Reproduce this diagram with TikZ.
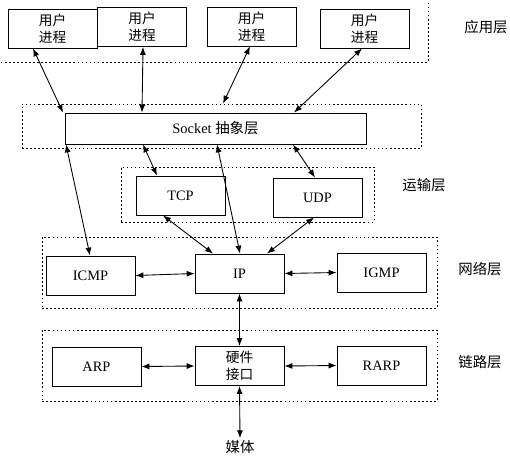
\documentclass[tikz,border=0pt]{standalone}
\usepackage{fontspec}
\setmainfont{Liberation Serif}
\newfontfamily\cjk{Noto Sans CJK SC}
\usetikzlibrary{positioning,arrows.meta,calc}

\begin{document}
\begin{tikzpicture}[x=0.02cm,y=-0.02cm,line width=0.5pt,
  font=\fontsize{8.2}{9.6}\selectfont,
  proc/.style={draw,minimum width=1.78cm,minimum height=0.78cm,inner sep=0pt,align=center},
  cjkproc/.style={proc,font=\fontsize{7.8}{9.8}\selectfont\cjk},
  layerbox/.style={draw,dash pattern=on 1pt off 1.3pt,inner sep=0pt},
  lbl/.style={font=\fontsize{8.2}{9.6}\selectfont\cjk},
  link/.style={{Latex[length=4.5pt,width=3.4pt]}-{Latex[length=4.5pt,width=3.4pt]}}]
\useasboundingbox (0,0) rectangle (510,460);
\clip (0,0) rectangle (510,460);
% ---- layer frames ----
\draw[layerbox] (-5,-5) rectangle (428,62);
\node[layerbox,minimum width=7.98cm,minimum height=0.88cm] (sockL) at (221.5,126) {};
\node[layerbox,minimum width=5.06cm,minimum height=1.10cm] (transL) at (247.5,194.5) {};
\node[layerbox,minimum width=7.90cm,minimum height=1.42cm] (netL) at (239.5,272.5) {};
\node[layerbox,minimum width=7.90cm,minimum height=1.42cm] (linkL) at (239.5,365.5) {};
% ---- layer names ----
\node[lbl] (appN) at (486,27) {应用层};
\node[lbl] (transN) at (424,185) {运输层};
\node[lbl] (netN) at (480,269) {网络层};
\node[lbl] (linkN) at (480,362) {链路层};
% ---- processes ----
\foreach \n/\x/\y in {1/52.5/28.5,2/142/27,3/251.5/26.5,4/364.5/28.5}
  \node[cjkproc] (u\n) at (\x,\y) {用户\\进程};
\node[proc,minimum width=6.02cm,minimum height=0.62cm] (socket) at (215.5,128.5) {Socket {\cjk 抽象层}};
\node[proc] (tcp) at (180.5,195.5) {TCP};
\node[proc] (udp) at (317.5,197.5) {UDP};
\node[proc] (icmp) at (90.5,275.5) {ICMP};
\node[proc] (ip) at (239.5,273.5) {IP};
\node[proc] (igmp) at (381.5,272.5) {IGMP};
\node[proc] (arp) at (96.5,366.5) {ARP};
\node[cjkproc] (hw) at (239.5,366) {硬件\\接口};
\node[proc] (rarp) at (381.5,365.5) {RARP};
\node[lbl,inner sep=1pt] (media) at (240,447) {媒体};
% ---- connectors ----
\draw[link] ($(u1.south)+(-19.5,0)$) -- ($(socket.north)+(-152.5,0)$);
\draw[link] ($(u2.south)+(1,0)$) -- ($(socket.north)+(-73.5,0)$);
\draw[link] ($(u3.south)+(-1.5,0)$) -- ($(sockL.north)+(1.5,0)$);
\draw[link] ($(u4.south)+(-2.5,0)$) -- ($(socket.north)+(78.5,0)$);
\draw[link] ($(socket.south)+(-72.5,0)$) -- ($(tcp.north)+(-23.5,0)$);
\draw[link] ($(socket.south)+(77.5,0)$) -- ($(udp.north)+(-2.5,0)$);
\draw[link] ($(socket.south)+(-149.5,0)$) -- ($(icmp.north)+(-0.5,0)$);
\draw[link] ($(socket.south)+(1.5,0)$) -- ($(ip.north)+(0.5,0)$);
\draw[link] ($(tcp.south)+(-17.5,0)$) -- ($(ip.north)+(-26.5,0)$);
\draw[link] ($(udp.south)+(-3.5,0)$) -- ($(ip.north)+(27.5,0)$);
\draw[link] (icmp.east) -- (ip.west);
\draw[link] (ip.east) -- (igmp.west);
\draw[link] (ip.south) -- (hw.north);
\draw[link] (arp.east) -- (hw.west);
\draw[link] (hw.east) -- (rarp.west);
\draw[link] (hw.south) -- (media.north);
\end{tikzpicture}
\end{document}
